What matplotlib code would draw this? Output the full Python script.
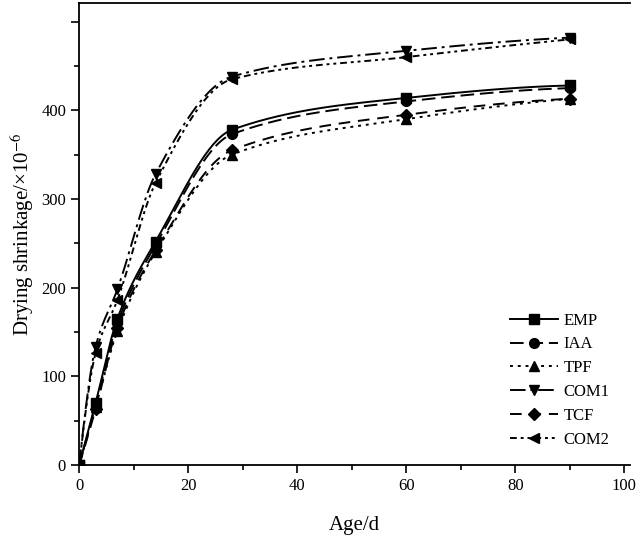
import numpy as np
import matplotlib
matplotlib.use("Agg")
import matplotlib.pyplot as plt
from matplotlib.ticker import MultipleLocator

plt.rcParams["font.family"] = ["Liberation Serif", "DejaVu Serif"]
plt.rcParams["mathtext.fontset"] = "stix"

# curing age (days)
ages = [0, 3, 7, 14, 28, 60, 90]

# drying shrinkage (x10^-6)
emp = [0, 70, 165, 252, 378, 414, 428]
iaa = [0, 67, 160, 248, 373, 410, 425]
tpf = [0, 65, 151, 240, 350, 390, 413]
com1 = [0, 133, 198, 328, 438, 467, 482]
tcf = [0, 63, 155, 242, 355, 395, 413]
com2 = [0, 126, 186, 318, 435, 460, 480]

series_names = ["EMP", "IAA", "TPF", "COM1", "TCF", "COM2"]


def pchip(x, y, n=400):
    # monotone cubic (Fritsch-Carlson) so the curves don't overshoot
    x = np.asarray(x, float)
    y = np.asarray(y, float)
    h = np.diff(x)
    delta = np.diff(y) / h
    k = len(x)
    d = np.zeros(k)
    for i in range(1, k - 1):
        if delta[i - 1] * delta[i] > 0:
            w1 = 2 * h[i] + h[i - 1]
            w2 = h[i] + 2 * h[i - 1]
            d[i] = (w1 + w2) / (w1 / delta[i - 1] + w2 / delta[i])
    d[0] = ((2 * h[0] + h[1]) * delta[0] - h[0] * delta[1]) / (h[0] + h[1])
    if np.sign(d[0]) != np.sign(delta[0]):
        d[0] = 0
    d[-1] = ((2 * h[-1] + h[-2]) * delta[-1] - h[-1] * delta[-2]) / (h[-1] + h[-2])
    if np.sign(d[-1]) != np.sign(delta[-1]):
        d[-1] = 0
    xs = np.linspace(x[0], x[-1], n)
    idx = np.clip(np.searchsorted(x, xs) - 1, 0, k - 2)
    t = (xs - x[idx]) / h[idx]
    h00 = 2 * t ** 3 - 3 * t ** 2 + 1
    h10 = t ** 3 - 2 * t ** 2 + t
    h01 = -2 * t ** 3 + 3 * t ** 2
    h11 = t ** 3 - t ** 2
    ys = (h00 * y[idx] + h10 * h[idx] * d[idx]
          + h01 * y[idx + 1] + h11 * h[idx] * d[idx + 1])
    return xs, ys


styles = [
    ("s", "-", 7),
    ("o", (0, (7, 3)), 7),
    ("^", (0, (1.5, 2.5)), 7),
    ("v", (0, (8, 2.5, 1.5, 2.5)), 7),
    ("D", (0, (6, 4)), 6),
    ("<", (0, (3.5, 2, 1.5, 2, 1.5, 2)), 7),
]

fig = plt.figure(figsize=(6.44, 5.48), dpi=100)
ax = fig.add_axes([0.123, 0.1515, 0.855, 0.843])

for name, vals, (mk, ls, ms) in zip(series_names, [emp, iaa, tpf, com1, tcf, com2], styles):
    xs, ys = pchip(ages, vals)
    ax.plot(xs, ys, color="black", linestyle=ls, linewidth=1.4)
    ax.plot(ages, vals, color="black", linestyle="none", marker=mk, markersize=ms)
    ax.plot([], [], color="black", linestyle=ls, linewidth=1.4, marker=mk,
            markersize=ms, label=name)

ax.set_xlim(0, 101)
ax.set_ylim(0, 521)
ax.xaxis.set_major_locator(MultipleLocator(20))
ax.xaxis.set_minor_locator(MultipleLocator(10))
ax.set_yticks([0, 100, 200, 300, 400, 500])
ax.set_yticklabels(["0", "100", "200", "300", "400", ""])
ax.yaxis.set_minor_locator(MultipleLocator(50))
ax.tick_params(which="major", direction="out", length=6, width=1.2, labelsize=12)
ax.tick_params(which="minor", direction="out", length=3.5, width=1.2)
ax.spines["right"].set_visible(False)
for s in ["left", "bottom", "top"]:
    ax.spines[s].set_linewidth(1.3)

ax.set_xlabel("Age/d", fontsize=15, labelpad=16)
ax.set_ylabel("Drying shrinkage/\u00d710$^{-6}$", fontsize=15, labelpad=4)

ax.legend(loc="lower right", bbox_to_anchor=(0.99, 0.005), frameon=False,
          fontsize=12, handlelength=2.9, handletextpad=0.3, labelspacing=0.47)

fig.savefig("out.png", dpi=100)
plt.close(fig)
